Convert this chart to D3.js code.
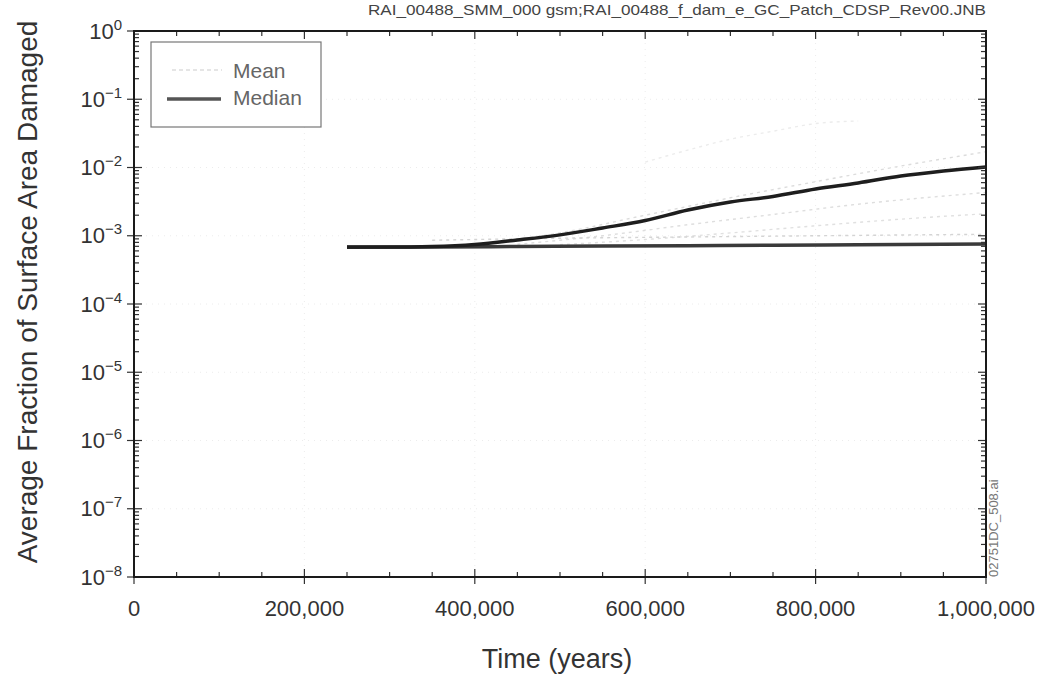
<!DOCTYPE html>
<html>
<head>
<meta charset="utf-8">
<script src="https://cdn.jsdelivr.net/npm/d3@7"></script>
<style>
  html, body { margin: 0; padding: 0; background: #fff; }
  svg { display: block; font-family: "Liberation Sans", Arial, sans-serif; }
</style>
</head>
<body>
<svg id="chart" width="1044" height="677"></svg>
<script>
// ---- data ----
const fileTitle = "RAI_00488_SMM_000 gsm;RAI_00488_f_dam_e_GC_Patch_CDSP_Rev00.JNB";
const sideNote = "02751DC_508.ai";
const xLabel = "Time (years)";
const yLabel = "Average Fraction of Surface Area Damaged";
const xTicks = [0, 200000, 400000, 600000, 800000, 1000000];
const xMinorTicks = [50000,100000,150000,250000,300000,350000,450000,500000,550000,650000,700000,750000,850000,900000,950000];
const yExponents = [0, -1, -2, -3, -4, -5, -6, -7, -8];
const legendNames = ["Mean", "Median"];

const meanYears  = [250000, 300000, 350000, 400000, 450000, 500000, 550000, 600000, 650000, 700000, 750000, 800000, 850000, 900000, 950000, 1000000];
const meanValues = [6.84e-4, 6.84e-4, 6.96e-4, 7.44e-4, 8.66e-4, 1.03e-3, 1.30e-3, 1.67e-3, 2.38e-3, 3.12e-3, 3.76e-3, 4.84e-3, 5.93e-3, 7.51e-3, 8.89e-3, 1.02e-2];

const medianYears  = [250000, 350000, 450000, 550000, 650000, 750000, 850000, 1000000];
const medianValues = [6.80e-4, 6.85e-4, 6.95e-4, 7.05e-4, 7.15e-4, 7.25e-4, 7.40e-4, 7.60e-4];

// faint dashed realisation / percentile curves
const fan1Years  = [400000, 500000, 600000, 700000, 800000, 900000, 1000000];
const fan1Values = [7.5e-4, 1.1e-3, 2.0e-3, 3.6e-3, 6.2e-3, 1.05e-2, 1.7e-2];
const fan2Years  = [450000, 550000, 650000, 750000, 850000, 1000000];
const fan2Values = [7.5e-4, 1.0e-3, 1.45e-3, 2.05e-3, 2.9e-3, 4.3e-3];
const fan3Years  = [500000, 600000, 700000, 800000, 900000, 1000000];
const fan3Values = [7.4e-4, 8.8e-4, 1.1e-3, 1.4e-3, 1.75e-3, 2.1e-3];
const fan4Years  = [350000, 500000, 650000, 800000, 1000000];
const fan4Values = [8.6e-4, 9.2e-4, 9.6e-4, 1.0e-3, 1.05e-3];
const fan5Years  = [600000, 650000, 700000, 750000, 800000, 850000];
const fan5Values = [1.2e-2, 1.8e-2, 2.6e-2, 3.4e-2, 4.4e-2, 4.8e-2];

// ---- layout ----
const svg = d3.select("#chart");
const L = 134, R = 986, T = 31, B = 577;
const x = d3.scaleLinear().domain([0, 1000000]).range([L, R]);
const y = d3.scaleLog().domain([1e-8, 1]).range([B, T]);

const decades = yExponents.map(e => Math.pow(10, e));
const yMinor = [];
for (let e = -8; e < 0; e++) for (let k = 2; k <= 9; k++) yMinor.push(k * Math.pow(10, e));

// faint dotted grid
const grid = svg.append("g").attr("stroke", "#ececec").attr("stroke-width", 1).attr("stroke-dasharray", "1,5");
grid.selectAll(".gy").data(decades.slice(1, -1)).join("line")
  .attr("x1", L).attr("x2", R).attr("y1", d => y(d)).attr("y2", d => y(d));
grid.selectAll(".gx").data(xTicks.slice(1, -1)).join("line")
  .attr("y1", T).attr("y2", B).attr("x1", d => x(d)).attr("x2", d => x(d));

// series
const line = d3.line().x(d => x(d[0])).y(d => y(d[1])).curve(d3.curveMonotoneX);
const zipS = (a, b) => a.map((v, i) => [v, b[i]]);

const fans = [[fan1Years, fan1Values, "#dcdcdc"], [fan2Years, fan2Values, "#dedede"], [fan3Years, fan3Values, "#e0e0e0"], [fan4Years, fan4Values, "#d4d4d4"], [fan5Years, fan5Values, "#ececec"]];
svg.append("g").selectAll("path").data(fans).join("path")
  .attr("d", d => line(zipS(d[0], d[1])))
  .attr("fill", "none").attr("stroke", d => d[2]).attr("stroke-width", 1.4)
  .attr("stroke-dasharray", "3,4");

svg.append("path").attr("d", line(zipS(medianYears, medianValues)))
  .attr("fill", "none").attr("stroke", "#3a3a3a").attr("stroke-width", 3.5);
svg.append("path").attr("d", line(zipS(meanYears, meanValues)))
  .attr("fill", "none").attr("stroke", "#1e1e1e").attr("stroke-width", 3.5);

// ticks
const tk = svg.append("g").attr("stroke", "#333").attr("stroke-width", 1.2);
// left axis
tk.selectAll(".lM").data(decades).join("line")
  .attr("x1", L - 7).attr("x2", L + 8).attr("y1", d => y(d)).attr("y2", d => y(d));
tk.selectAll(".lm").data(yMinor).join("line")
  .attr("x1", L).attr("x2", L + 5).attr("y1", d => y(d)).attr("y2", d => y(d));
// right axis
tk.selectAll(".rM").data(decades).join("line")
  .attr("x1", R - 8).attr("x2", R).attr("y1", d => y(d)).attr("y2", d => y(d));
tk.selectAll(".rm").data(yMinor).join("line")
  .attr("x1", R - 5).attr("x2", R).attr("y1", d => y(d)).attr("y2", d => y(d));
// bottom axis
tk.selectAll(".bM").data(xTicks).join("line")
  .attr("x1", d => x(d)).attr("x2", d => x(d)).attr("y1", B - 8).attr("y2", B + 7);
tk.selectAll(".bm").data(xMinorTicks).join("line")
  .attr("x1", d => x(d)).attr("x2", d => x(d)).attr("y1", B - 5).attr("y2", B);
// top axis
tk.selectAll(".tM").data(xTicks).join("line")
  .attr("x1", d => x(d)).attr("x2", d => x(d)).attr("y1", T).attr("y2", T + 8);
tk.selectAll(".tm").data(xMinorTicks).join("line")
  .attr("x1", d => x(d)).attr("x2", d => x(d)).attr("y1", T).attr("y2", T + 5);

// frame
svg.append("rect").attr("x", L).attr("y", T).attr("width", R - L).attr("height", B - T)
  .attr("fill", "none").attr("stroke", "#1a1a1a").attr("stroke-width", 2);

// y tick labels 10^e
const yl = svg.append("g").attr("fill", "#333");
yExponents.forEach(e => {
  const t = yl.append("text").attr("x", 122).attr("y", y(Math.pow(10, e)) + 7.5)
    .attr("text-anchor", "end").attr("font-size", 22);
  t.append("tspan").text("10");
  t.append("tspan").attr("font-size", 15).attr("dy", -9).text(e === 0 ? "0" : "\u2212" + Math.abs(e));
});

// x tick labels
const fmt = d3.format(",");
svg.append("g").selectAll("text").data(xTicks).join("text")
  .attr("x", d => x(d)).attr("y", 616).attr("text-anchor", "middle")
  .attr("font-size", 22).attr("fill", "#333").text(d => fmt(d));

// axis titles
svg.append("text").attr("x", 557).attr("y", 668).attr("text-anchor", "middle")
  .attr("font-size", 27).attr("fill", "#333").text(xLabel);
svg.append("text").attr("transform", "translate(37,292) rotate(-90)").attr("text-anchor", "middle")
  .attr("font-size", 28).attr("fill", "#333").text(yLabel);

// file title
svg.append("text").attr("x", R).attr("y", 15).attr("text-anchor", "end")
  .attr("font-size", 15).attr("fill", "#444")
  .attr("textLength", 618).attr("lengthAdjust", "spacingAndGlyphs").text(fileTitle);

// side note
svg.append("text").attr("transform", "translate(998,577) rotate(-90)").attr("text-anchor", "start")
  .attr("font-size", 13).attr("fill", "#777").text(sideNote);

// legend
const lg = svg.append("g");
lg.append("rect").attr("x", 151).attr("y", 42).attr("width", 170).attr("height", 85)
  .attr("fill", "#fff").attr("stroke", "#777").attr("stroke-width", 1.2);
lg.append("line").attr("x1", 172).attr("x2", 222).attr("y1", 70).attr("y2", 70)
  .attr("stroke", "#dddddd").attr("stroke-width", 1.6).attr("stroke-dasharray", "4,3");
lg.append("line").attr("x1", 167).attr("x2", 221).attr("y1", 99).attr("y2", 99)
  .attr("stroke", "#555").attr("stroke-width", 3.5);
lg.selectAll("text").data(legendNames).join("text")
  .attr("x", 233).attr("y", (d, i) => 78 + i * 27)
  .attr("font-size", 21).attr("fill", "#666").text(d => d);
</script>
</body>
</html>
